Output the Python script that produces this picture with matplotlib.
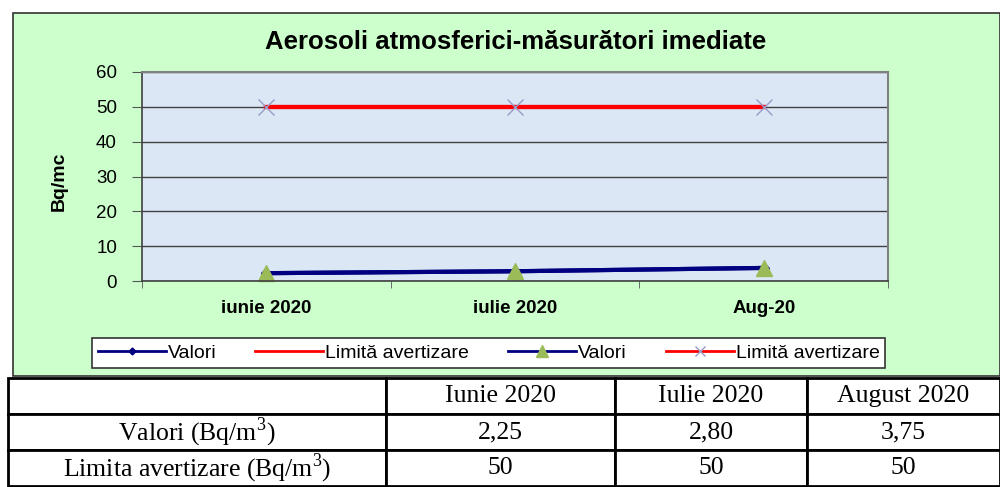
import numpy as np
import matplotlib.pyplot as plt
from matplotlib.patches import Rectangle

plt.rcParams['font.family'] = 'Liberation Sans'
plt.rcParams['mathtext.fontset'] = 'custom'
plt.rcParams['mathtext.rm'] = 'Liberation Serif'

# data
luni = ['iunie 2020', 'iulie 2020', 'Aug-20']
valori = [2.25, 2.80, 3.75]
limita = [50, 50, 50]
col_labels = ['', 'Iunie 2020', 'Iulie 2020', 'August 2020']
row_labels = ['Valori (Bq/m$^3$)', 'Limita avertizare (Bq/m$^3$)']
val_text = ['2,25', '2,80', '3,75']
lim_text = ['50', '50', '50']

W, H = 1000, 487
fig = plt.figure(figsize=(10, 4.87), dpi=100)

def box(x0, y0, x1, y1):
    # pixel box -> figure fraction
    return [x0 / W, 1 - y1 / H, (x1 - x0) / W, (y1 - y0) / H]

# green chart background
fig.patches.append(Rectangle((13 / W, 1 - 376 / H), (W - 13) / W, (376 - 13) / H,
                             transform=fig.transFigure, facecolor='#ccffcc',
                             edgecolor='#333333', linewidth=1.2, zorder=-1))

ax = fig.add_axes(box(142, 72, 888, 281))
ax.set_facecolor('#dce7f5')
x = np.arange(len(luni))

ax.plot(x, valori, color='#000080', lw=3, marker='D', ms=5, label='Valori')
ax.plot(x, limita, color='#ff0000', lw=3, label='Limită avertizare')
ax.plot(x, valori, color='#000080', lw=3, marker='^', ms=12,
        markerfacecolor='#9bbb59', markeredgecolor='#9bbb59', label='Valori', clip_on=False)
ax.plot(x, limita, color='#ff0000', lw=3, marker='x', ms=11,
        markeredgecolor='#9a9ac8', markeredgewidth=1, label='Limită avertizare')

ax.set_xlim(-0.5, 2.5)
ax.set_ylim(0, 60)
ax.set_yticks(range(0, 61, 10))
ax.set_xticks(x)
ax.set_xticklabels(luni, fontsize=13.5, fontweight='bold')
ax.set_xticks([-0.5, 0.5, 1.5, 2.5], minor=True)
ax.tick_params(axis='x', which='major', length=0, pad=14)
ax.tick_params(axis='x', which='minor', length=5, color='#555555')
ax.tick_params(axis='y', length=7, color='#555555', labelsize=13.5, pad=11)
ax.grid(axis='y', color='#404040', lw=1)
ax.set_axisbelow(True)
for s in ['top', 'right']:
    ax.spines[s].set_color('#808080')
    ax.spines[s].set_linewidth(1.5)
for s in ['left', 'bottom']:
    ax.spines[s].set_color('#404040')
    ax.spines[s].set_linewidth(1.2)

fig.text(516 / W, 1 - 42 / H, 'Aerosoli atmosferici-măsurători imediate',
         ha='center', va='center', fontsize=18.5, fontweight='bold')
fig.text(59 / W, 1 - 181 / H, 'Bq/mc', rotation=90, ha='center', va='center',
         fontsize=14, fontweight='bold')

h, l = ax.get_legend_handles_labels()
for hd in h:
    hd.set_linewidth(2)
leg = fig.legend(h, l, ncol=4, loc='center', bbox_to_anchor=((84 + 893) / 2 / W, 1 - 353 / H),
                 fontsize=14, frameon=True, fancybox=False, handlelength=3.5,
                 handletextpad=0.1, columnspacing=2.0, borderpad=0.3, framealpha=1,
                 markerscale=0.7)
leg.get_frame().set_edgecolor('#333333')
leg.get_frame().set_linewidth(1.2)
for hd in h:
    hd.set_linewidth(3)

# table under the chart
tax = fig.add_axes(box(8, 378, 1000, 486))
tax.axis('off')
cells = [col_labels,
         [row_labels[0]] + val_text,
         [row_labels[1]] + lim_text]
tab = tax.table(cellText=cells, bbox=[0, 0, 1, 1], cellLoc='center',
                colWidths=[378, 229, 192, 193])
tab.auto_set_font_size(False)
for (r, c), cell in tab.get_celld().items():
    cell.set_linewidth(2)
    cell.set_edgecolor('black')
    cell.set_facecolor('white')
    cell.get_text().set_fontfamily('Liberation Serif')
    cell.get_text().set_fontsize(18.5)

fig.savefig('out.png', dpi=100)
